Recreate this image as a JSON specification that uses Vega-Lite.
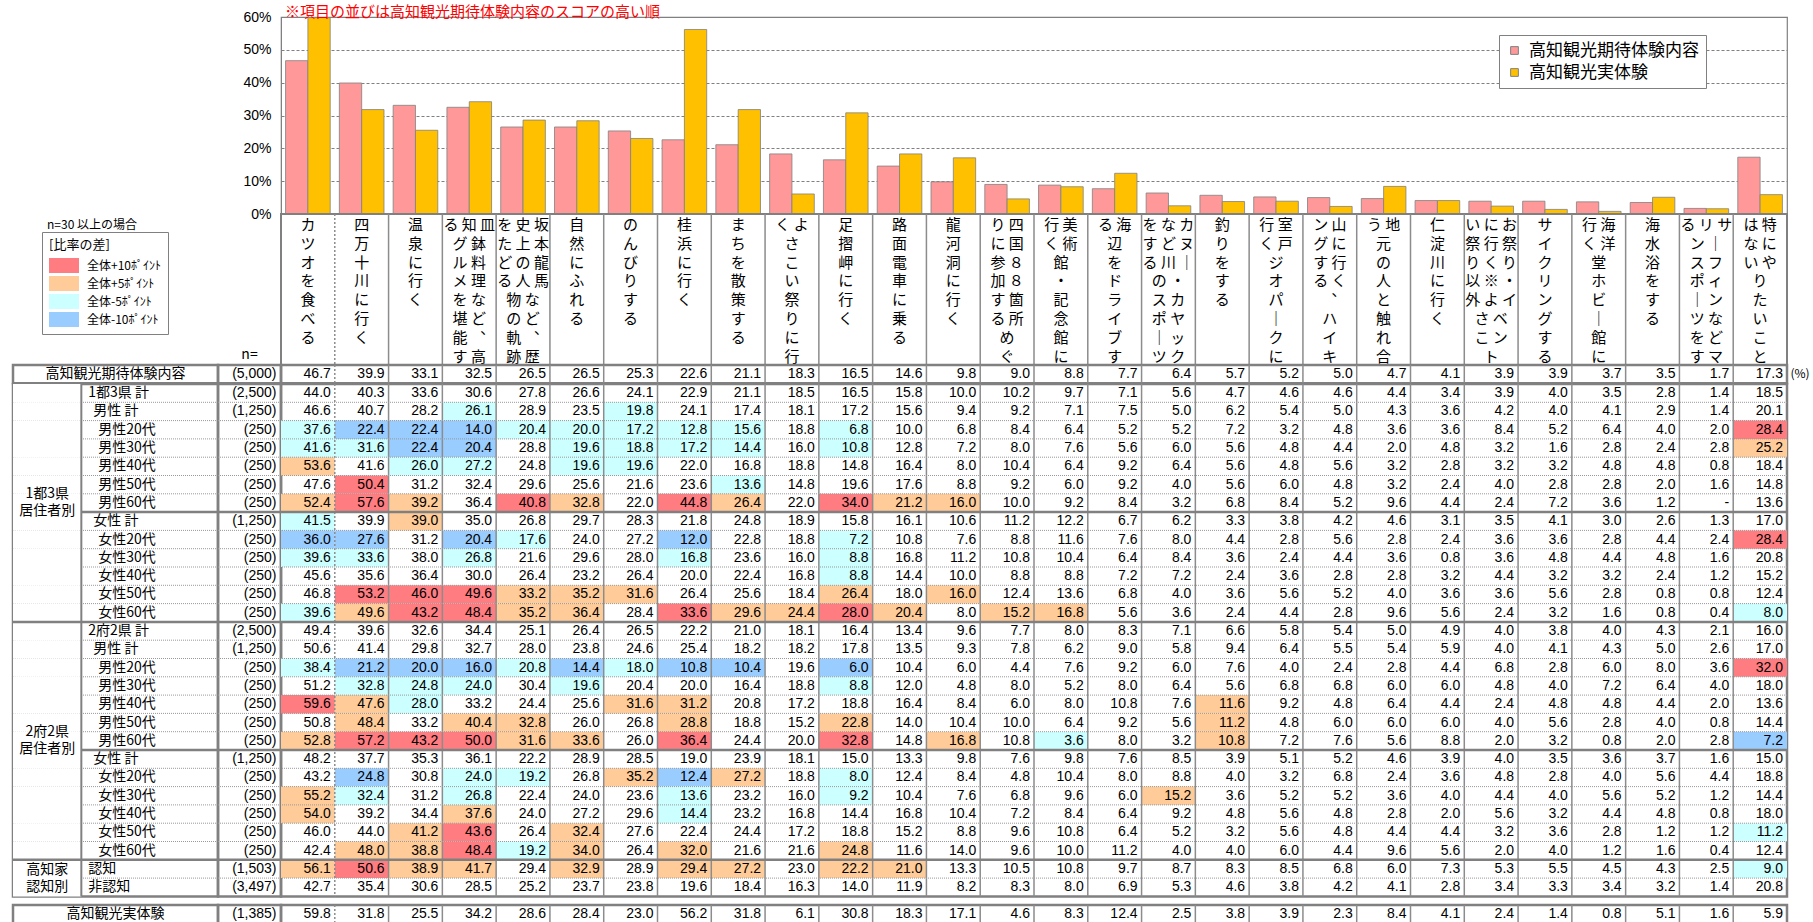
{
  "$schema": "https://vega.github.io/schema/vega-lite/v6.json",
  "background": "#ffffff",
  "padding": {"left": 10, "top": 4, "right": 0, "bottom": 0},
  "columns": 3,
  "align": "each",
  "bounds": "flush",
  "spacing": 0,
  "config": {
    "view": {"stroke": null},
    "font": "Noto Sans CJK JP",
    "title": {"fontWeight": "normal", "color": "#000000"}
  },
  "datasets": {
    "rows": [
      {"r":0,"lab":"高知観光期待体験内容","lv":0,"n":"(5,000)","c01":46.7,"c02":39.9,"c03":33.1,"c04":32.5,"c05":26.5,"c06":26.5,"c07":25.3,"c08":22.6,"c09":21.1,"c10":18.3,"c11":16.5,"c12":14.6,"c13":9.8,"c14":9.0,"c15":8.8,"c16":7.7,"c17":6.4,"c18":5.7,"c19":5.2,"c20":5.0,"c21":4.7,"c22":4.1,"c23":3.9,"c24":3.9,"c25":3.7,"c26":3.5,"c27":1.7,"c28":17.3},
      {"r":1,"lab":"1都3県 計","lv":1,"n":"(2,500)","c01":44.0,"c02":40.3,"c03":33.6,"c04":30.6,"c05":27.8,"c06":26.6,"c07":24.1,"c08":22.9,"c09":21.1,"c10":18.5,"c11":16.5,"c12":15.8,"c13":10.0,"c14":10.2,"c15":9.7,"c16":7.1,"c17":5.6,"c18":4.7,"c19":4.6,"c20":4.6,"c21":4.4,"c22":3.4,"c23":3.9,"c24":4.0,"c25":3.5,"c26":2.8,"c27":1.4,"c28":18.5},
      {"r":2,"lab":"男性 計","lv":2,"n":"(1,250)","c01":46.6,"c02":40.7,"c03":28.2,"c04":26.1,"c05":28.9,"c06":23.5,"c07":19.8,"c08":24.1,"c09":17.4,"c10":18.1,"c11":17.2,"c12":15.6,"c13":9.4,"c14":9.2,"c15":7.1,"c16":7.5,"c17":5.0,"c18":6.2,"c19":5.4,"c20":5.0,"c21":4.3,"c22":3.6,"c23":4.2,"c24":4.0,"c25":4.1,"c26":2.9,"c27":1.4,"c28":20.1},
      {"r":3,"lab":"男性20代","lv":3,"n":"(250)","c01":37.6,"c02":22.4,"c03":22.4,"c04":14.0,"c05":20.4,"c06":20.0,"c07":17.2,"c08":12.8,"c09":15.6,"c10":18.8,"c11":6.8,"c12":10.0,"c13":6.8,"c14":8.4,"c15":6.4,"c16":5.2,"c17":5.2,"c18":7.2,"c19":3.2,"c20":4.8,"c21":3.6,"c22":3.6,"c23":8.4,"c24":5.2,"c25":6.4,"c26":4.0,"c27":2.0,"c28":28.4},
      {"r":4,"lab":"男性30代","lv":3,"n":"(250)","c01":41.6,"c02":31.6,"c03":22.4,"c04":20.4,"c05":28.8,"c06":19.6,"c07":18.8,"c08":17.2,"c09":14.4,"c10":16.0,"c11":10.8,"c12":12.8,"c13":7.2,"c14":8.0,"c15":7.6,"c16":5.6,"c17":6.0,"c18":5.6,"c19":4.8,"c20":4.4,"c21":2.0,"c22":4.8,"c23":3.2,"c24":1.6,"c25":2.8,"c26":2.4,"c27":2.8,"c28":25.2},
      {"r":5,"lab":"男性40代","lv":3,"n":"(250)","c01":53.6,"c02":41.6,"c03":26.0,"c04":27.2,"c05":24.8,"c06":19.6,"c07":19.6,"c08":22.0,"c09":16.8,"c10":18.8,"c11":14.8,"c12":16.4,"c13":8.0,"c14":10.4,"c15":6.4,"c16":9.2,"c17":6.4,"c18":5.6,"c19":4.8,"c20":5.6,"c21":3.2,"c22":2.8,"c23":3.2,"c24":3.2,"c25":4.8,"c26":4.8,"c27":0.8,"c28":18.4},
      {"r":6,"lab":"男性50代","lv":3,"n":"(250)","c01":47.6,"c02":50.4,"c03":31.2,"c04":32.4,"c05":29.6,"c06":25.6,"c07":21.6,"c08":23.6,"c09":13.6,"c10":14.8,"c11":19.6,"c12":17.6,"c13":8.8,"c14":9.2,"c15":6.0,"c16":9.2,"c17":4.0,"c18":5.6,"c19":6.0,"c20":4.8,"c21":3.2,"c22":2.4,"c23":4.0,"c24":2.8,"c25":2.8,"c26":2.0,"c27":1.6,"c28":14.8},
      {"r":7,"lab":"男性60代","lv":3,"n":"(250)","c01":52.4,"c02":57.6,"c03":39.2,"c04":36.4,"c05":40.8,"c06":32.8,"c07":22.0,"c08":44.8,"c09":26.4,"c10":22.0,"c11":34.0,"c12":21.2,"c13":16.0,"c14":10.0,"c15":9.2,"c16":8.4,"c17":3.2,"c18":6.8,"c19":8.4,"c20":5.2,"c21":9.6,"c22":4.4,"c23":2.4,"c24":7.2,"c25":3.6,"c26":1.2,"c27":null,"c28":13.6},
      {"r":8,"lab":"女性 計","lv":2,"n":"(1,250)","c01":41.5,"c02":39.9,"c03":39.0,"c04":35.0,"c05":26.8,"c06":29.7,"c07":28.3,"c08":21.8,"c09":24.8,"c10":18.9,"c11":15.8,"c12":16.1,"c13":10.6,"c14":11.2,"c15":12.2,"c16":6.7,"c17":6.2,"c18":3.3,"c19":3.8,"c20":4.2,"c21":4.6,"c22":3.1,"c23":3.5,"c24":4.1,"c25":3.0,"c26":2.6,"c27":1.3,"c28":17.0},
      {"r":9,"lab":"女性20代","lv":3,"n":"(250)","c01":36.0,"c02":27.6,"c03":31.2,"c04":20.4,"c05":17.6,"c06":24.0,"c07":27.2,"c08":12.0,"c09":22.8,"c10":18.8,"c11":7.2,"c12":10.8,"c13":7.6,"c14":8.8,"c15":11.6,"c16":7.6,"c17":8.0,"c18":4.4,"c19":2.8,"c20":5.6,"c21":2.8,"c22":2.4,"c23":3.6,"c24":3.6,"c25":2.8,"c26":4.4,"c27":2.4,"c28":28.4},
      {"r":10,"lab":"女性30代","lv":3,"n":"(250)","c01":39.6,"c02":33.6,"c03":38.0,"c04":26.8,"c05":21.6,"c06":29.6,"c07":28.0,"c08":16.8,"c09":23.6,"c10":16.0,"c11":8.8,"c12":16.8,"c13":11.2,"c14":10.8,"c15":10.4,"c16":6.4,"c17":8.4,"c18":3.6,"c19":2.4,"c20":4.4,"c21":3.6,"c22":0.8,"c23":3.6,"c24":4.8,"c25":4.4,"c26":4.8,"c27":1.6,"c28":20.8},
      {"r":11,"lab":"女性40代","lv":3,"n":"(250)","c01":45.6,"c02":35.6,"c03":36.4,"c04":30.0,"c05":26.4,"c06":23.2,"c07":26.4,"c08":20.0,"c09":22.4,"c10":16.8,"c11":8.8,"c12":14.4,"c13":10.0,"c14":8.8,"c15":8.8,"c16":7.2,"c17":7.2,"c18":2.4,"c19":3.6,"c20":2.8,"c21":2.8,"c22":3.2,"c23":4.4,"c24":3.2,"c25":3.2,"c26":2.4,"c27":1.2,"c28":15.2},
      {"r":12,"lab":"女性50代","lv":3,"n":"(250)","c01":46.8,"c02":53.2,"c03":46.0,"c04":49.6,"c05":33.2,"c06":35.2,"c07":31.6,"c08":26.4,"c09":25.6,"c10":18.4,"c11":26.4,"c12":18.0,"c13":16.0,"c14":12.4,"c15":13.6,"c16":6.8,"c17":4.0,"c18":3.6,"c19":5.6,"c20":5.2,"c21":4.0,"c22":3.6,"c23":3.6,"c24":5.6,"c25":2.8,"c26":0.8,"c27":0.8,"c28":12.4},
      {"r":13,"lab":"女性60代","lv":3,"n":"(250)","c01":39.6,"c02":49.6,"c03":43.2,"c04":48.4,"c05":35.2,"c06":36.4,"c07":28.4,"c08":33.6,"c09":29.6,"c10":24.4,"c11":28.0,"c12":20.4,"c13":8.0,"c14":15.2,"c15":16.8,"c16":5.6,"c17":3.6,"c18":2.4,"c19":4.4,"c20":2.8,"c21":9.6,"c22":5.6,"c23":2.4,"c24":3.2,"c25":1.6,"c26":0.8,"c27":0.4,"c28":8.0},
      {"r":14,"lab":"2府2県 計","lv":1,"n":"(2,500)","c01":49.4,"c02":39.6,"c03":32.6,"c04":34.4,"c05":25.1,"c06":26.4,"c07":26.5,"c08":22.2,"c09":21.0,"c10":18.1,"c11":16.4,"c12":13.4,"c13":9.6,"c14":7.7,"c15":8.0,"c16":8.3,"c17":7.1,"c18":6.6,"c19":5.8,"c20":5.4,"c21":5.0,"c22":4.9,"c23":4.0,"c24":3.8,"c25":4.0,"c26":4.3,"c27":2.1,"c28":16.0},
      {"r":15,"lab":"男性 計","lv":2,"n":"(1,250)","c01":50.6,"c02":41.4,"c03":29.8,"c04":32.7,"c05":28.0,"c06":23.8,"c07":24.6,"c08":25.4,"c09":18.2,"c10":18.2,"c11":17.8,"c12":13.5,"c13":9.3,"c14":7.8,"c15":6.2,"c16":9.0,"c17":5.8,"c18":9.4,"c19":6.4,"c20":5.5,"c21":5.4,"c22":5.9,"c23":4.0,"c24":4.1,"c25":4.3,"c26":5.0,"c27":2.6,"c28":17.0},
      {"r":16,"lab":"男性20代","lv":3,"n":"(250)","c01":38.4,"c02":21.2,"c03":20.0,"c04":16.0,"c05":20.8,"c06":14.4,"c07":18.0,"c08":10.8,"c09":10.4,"c10":19.6,"c11":6.0,"c12":10.4,"c13":6.0,"c14":4.4,"c15":7.6,"c16":9.2,"c17":6.0,"c18":7.6,"c19":4.0,"c20":2.4,"c21":2.8,"c22":4.4,"c23":6.8,"c24":2.8,"c25":6.0,"c26":8.0,"c27":3.6,"c28":32.0},
      {"r":17,"lab":"男性30代","lv":3,"n":"(250)","c01":51.2,"c02":32.8,"c03":24.8,"c04":24.0,"c05":30.4,"c06":19.6,"c07":20.4,"c08":20.0,"c09":16.4,"c10":18.8,"c11":8.8,"c12":12.0,"c13":4.8,"c14":8.0,"c15":5.2,"c16":8.0,"c17":6.4,"c18":5.6,"c19":6.8,"c20":6.8,"c21":6.0,"c22":6.0,"c23":4.8,"c24":4.0,"c25":7.2,"c26":6.4,"c27":4.0,"c28":18.0},
      {"r":18,"lab":"男性40代","lv":3,"n":"(250)","c01":59.6,"c02":47.6,"c03":28.0,"c04":33.2,"c05":24.4,"c06":25.6,"c07":31.6,"c08":31.2,"c09":20.8,"c10":17.2,"c11":18.8,"c12":16.4,"c13":8.4,"c14":6.0,"c15":8.0,"c16":10.8,"c17":7.6,"c18":11.6,"c19":9.2,"c20":4.8,"c21":6.4,"c22":4.4,"c23":2.4,"c24":4.8,"c25":4.8,"c26":4.4,"c27":2.0,"c28":13.6},
      {"r":19,"lab":"男性50代","lv":3,"n":"(250)","c01":50.8,"c02":48.4,"c03":33.2,"c04":40.4,"c05":32.8,"c06":26.0,"c07":26.8,"c08":28.8,"c09":18.8,"c10":15.2,"c11":22.8,"c12":14.0,"c13":10.4,"c14":10.0,"c15":6.4,"c16":9.2,"c17":5.6,"c18":11.2,"c19":4.8,"c20":6.0,"c21":6.0,"c22":6.0,"c23":4.0,"c24":5.6,"c25":2.8,"c26":4.0,"c27":0.8,"c28":14.4},
      {"r":20,"lab":"男性60代","lv":3,"n":"(250)","c01":52.8,"c02":57.2,"c03":43.2,"c04":50.0,"c05":31.6,"c06":33.6,"c07":26.0,"c08":36.4,"c09":24.4,"c10":20.0,"c11":32.8,"c12":14.8,"c13":16.8,"c14":10.8,"c15":3.6,"c16":8.0,"c17":3.2,"c18":10.8,"c19":7.2,"c20":7.6,"c21":5.6,"c22":8.8,"c23":2.0,"c24":3.2,"c25":0.8,"c26":2.0,"c27":2.8,"c28":7.2},
      {"r":21,"lab":"女性 計","lv":2,"n":"(1,250)","c01":48.2,"c02":37.7,"c03":35.3,"c04":36.1,"c05":22.2,"c06":28.9,"c07":28.5,"c08":19.0,"c09":23.9,"c10":18.1,"c11":15.0,"c12":13.3,"c13":9.8,"c14":7.6,"c15":9.8,"c16":7.6,"c17":8.5,"c18":3.9,"c19":5.1,"c20":5.2,"c21":4.6,"c22":3.9,"c23":4.0,"c24":3.5,"c25":3.6,"c26":3.7,"c27":1.6,"c28":15.0},
      {"r":22,"lab":"女性20代","lv":3,"n":"(250)","c01":43.2,"c02":24.8,"c03":30.8,"c04":24.0,"c05":19.2,"c06":26.8,"c07":35.2,"c08":12.4,"c09":27.2,"c10":18.8,"c11":8.0,"c12":12.4,"c13":8.4,"c14":4.8,"c15":10.4,"c16":8.0,"c17":8.8,"c18":4.0,"c19":3.2,"c20":6.8,"c21":2.4,"c22":3.6,"c23":4.8,"c24":2.8,"c25":4.0,"c26":5.6,"c27":4.4,"c28":18.8},
      {"r":23,"lab":"女性30代","lv":3,"n":"(250)","c01":55.2,"c02":32.4,"c03":31.2,"c04":26.8,"c05":22.4,"c06":24.0,"c07":23.6,"c08":13.6,"c09":23.2,"c10":16.0,"c11":9.2,"c12":10.4,"c13":7.6,"c14":6.8,"c15":9.6,"c16":6.0,"c17":15.2,"c18":3.6,"c19":5.2,"c20":5.2,"c21":3.6,"c22":4.0,"c23":4.4,"c24":4.0,"c25":5.6,"c26":5.2,"c27":1.2,"c28":14.4},
      {"r":24,"lab":"女性40代","lv":3,"n":"(250)","c01":54.0,"c02":39.2,"c03":34.4,"c04":37.6,"c05":24.0,"c06":27.2,"c07":29.6,"c08":14.4,"c09":23.2,"c10":16.8,"c11":14.4,"c12":16.8,"c13":10.4,"c14":7.2,"c15":8.4,"c16":6.4,"c17":9.2,"c18":4.8,"c19":5.6,"c20":4.8,"c21":2.8,"c22":2.0,"c23":5.6,"c24":3.2,"c25":4.4,"c26":4.8,"c27":0.8,"c28":18.0},
      {"r":25,"lab":"女性50代","lv":3,"n":"(250)","c01":46.0,"c02":44.0,"c03":41.2,"c04":43.6,"c05":26.4,"c06":32.4,"c07":27.6,"c08":22.4,"c09":24.4,"c10":17.2,"c11":18.8,"c12":15.2,"c13":8.8,"c14":9.6,"c15":10.8,"c16":6.4,"c17":5.2,"c18":3.2,"c19":5.6,"c20":4.8,"c21":4.4,"c22":4.4,"c23":3.2,"c24":3.6,"c25":2.8,"c26":1.2,"c27":1.2,"c28":11.2},
      {"r":26,"lab":"女性60代","lv":3,"n":"(250)","c01":42.4,"c02":48.0,"c03":38.8,"c04":48.4,"c05":19.2,"c06":34.0,"c07":26.4,"c08":32.0,"c09":21.6,"c10":21.6,"c11":24.8,"c12":11.6,"c13":14.0,"c14":9.6,"c15":10.0,"c16":11.2,"c17":4.0,"c18":4.0,"c19":6.0,"c20":4.4,"c21":9.6,"c22":5.6,"c23":2.0,"c24":4.0,"c25":1.2,"c26":1.6,"c27":0.4,"c28":12.4},
      {"r":27,"lab":"認知","lv":1,"n":"(1,503)","c01":56.1,"c02":50.6,"c03":38.9,"c04":41.7,"c05":29.4,"c06":32.9,"c07":28.9,"c08":29.4,"c09":27.2,"c10":23.0,"c11":22.2,"c12":21.0,"c13":13.3,"c14":10.5,"c15":10.8,"c16":9.7,"c17":8.7,"c18":8.3,"c19":8.5,"c20":6.8,"c21":6.0,"c22":7.3,"c23":5.3,"c24":5.5,"c25":4.5,"c26":4.3,"c27":2.5,"c28":9.0},
      {"r":28,"lab":"非認知","lv":1,"n":"(3,497)","c01":42.7,"c02":35.4,"c03":30.6,"c04":28.5,"c05":25.2,"c06":23.7,"c07":23.8,"c08":19.6,"c09":18.4,"c10":16.3,"c11":14.0,"c12":11.9,"c13":8.2,"c14":8.3,"c15":8.0,"c16":6.9,"c17":5.3,"c18":4.6,"c19":3.8,"c20":4.2,"c21":4.1,"c22":2.8,"c23":3.4,"c24":3.3,"c25":3.4,"c26":3.2,"c27":1.4,"c28":20.8},
      {"r":29,"lab":"高知観光実体験","lv":0,"n":"(1,385)","c01":59.8,"c02":31.8,"c03":25.5,"c04":34.2,"c05":28.6,"c06":28.4,"c07":23.0,"c08":56.2,"c09":31.8,"c10":6.1,"c11":30.8,"c12":18.3,"c13":17.1,"c14":4.6,"c15":8.3,"c16":12.4,"c17":2.5,"c18":3.8,"c19":3.9,"c20":2.3,"c21":8.4,"c22":4.1,"c23":2.4,"c24":1.4,"c25":0.8,"c26":5.1,"c27":1.6,"c28":5.9}
    ],
    "cats": [
      {"key":"c01","name":"カツオを食べる","vt":"カ\nツ\nオ\nを\n食\nべ\nる\n　"},
      {"key":"c02","name":"四万十川に行く","vt":"四\n万\n十\n川\nに\n行\nく\n　"},
      {"key":"c03","name":"温泉に行く","vt":"温\n泉\nに\n行\nく\n　\n　\n　"},
      {"key":"c04","name":"皿鉢料理など、高知グルメを堪能する","vt":"る 知 皿\n　 グ 鉢\n　 ル 料\n　 メ 理\n　 を な\n　 堪 ど\n　 能 ︑\n　 す 高"},
      {"key":"c05","name":"坂本龍馬など、歴史上の人物の軌跡をたどる","vt":"を 史 坂\nた 上 本\nど の 龍\nる 人 馬\n　 物 な\n　 の ど\n　 軌 ︑\n　 跡 歴"},
      {"key":"c06","name":"自然にふれる","vt":"自\n然\nに\nふ\nれ\nる\n　\n　"},
      {"key":"c07","name":"のんびりする","vt":"の\nん\nび\nり\nす\nる\n　\n　"},
      {"key":"c08","name":"桂浜に行く","vt":"桂\n浜\nに\n行\nく\n　\n　\n　"},
      {"key":"c09","name":"まちを散策する","vt":"ま\nち\nを\n散\n策\nす\nる\n　"},
      {"key":"c10","name":"よさこい祭りに行く","vt":"く よ\n　 さ\n　 こ\n　 い\n　 祭\n　 り\n　 に\n　 行"},
      {"key":"c11","name":"足摺岬に行く","vt":"足\n摺\n岬\nに\n行\nく\n　\n　"},
      {"key":"c12","name":"路面電車に乗る","vt":"路\n面\n電\n車\nに\n乗\nる\n　"},
      {"key":"c13","name":"龍河洞に行く","vt":"龍\n河\n洞\nに\n行\nく\n　\n　"},
      {"key":"c14","name":"四国88箇所めぐりに参加する","vt":"り 四\nに 国\n参 ８\n加 ８\nす 箇\nる 所\n　 め\n　 ぐ"},
      {"key":"c15","name":"美術館・記念館に行く","vt":"行 美\nく 術\n　 館\n　 ・\n　 記\n　 念\n　 館\n　 に"},
      {"key":"c16","name":"海辺をドライブする","vt":"る 海\n　 辺\n　 を\n　 ド\n　 ラ\n　 イ\n　 ブ\n　 す"},
      {"key":"c17","name":"カヌー・カヤックなど川のスポーツをする","vt":"を な カ\nす ど ヌ\nる 川 ｜\n　 の ・\n　 ス カ\n　 ポ ヤ\n　 ｜ ッ\n　 ツ ク"},
      {"key":"c18","name":"釣りをする","vt":"釣\nり\nを\nす\nる\n　\n　\n　"},
      {"key":"c19","name":"室戸ジオパークに行く","vt":"行 室\nく 戸\n　 ジ\n　 オ\n　 パ\n　 ｜\n　 ク\n　 に"},
      {"key":"c20","name":"山に行く、ハイキングする","vt":"ン 山\nグ に\nす 行\nる く\n　 ︑\n　 ハ\n　 イ\n　 キ"},
      {"key":"c21","name":"地元の人と触れ合う","vt":"う 地\n　 元\n　 の\n　 人\n　 と\n　 触\n　 れ\n　 合"},
      {"key":"c22","name":"仁淀川に行く","vt":"仁\n淀\n川\nに\n行\nく\n　\n　"},
      {"key":"c23","name":"お祭り・イベントに行く※よさこい祭り以外","vt":"い に お\n祭 行 祭\nり く り\n以 ※ ・\n外 よ イ\n　 さ ベ\n　 こ ン\n　 　 ト"},
      {"key":"c24","name":"サイクリングする","vt":"サ\nイ\nク\nリ\nン\nグ\nす\nる"},
      {"key":"c25","name":"海洋堂ホビー館に行く","vt":"行 海\nく 洋\n　 堂\n　 ホ\n　 ビ\n　 ｜\n　 館\n　 に"},
      {"key":"c26","name":"海水浴をする","vt":"海\n水\n浴\nを\nす\nる\n　\n　"},
      {"key":"c27","name":"サーフィンなどマリンスポーツをする","vt":"る リ サ\n　 ン ｜\n　 ス フ\n　 ポ ィ\n　 ｜ ン\n　 ツ な\n　 を ど\n　 す マ"},
      {"key":"c28","name":"特にやりたいことはない","vt":"は 特\nな に\nい や\n　 り\n　 た\n　 い\n　 こ\n　 と"}
    ],
    "grps": [
      {"r":7,"t":["1都3県","居住者別"]},
      {"r":20,"t":["2府2県","居住者別"]},
      {"r":27,"t":["高知家","認知別"]}
    ]
  },
  "concat": [
    {"width": 205, "height": 197, "data": {"values": [{}]},
     "title": {"text": "n=30 以上の場合", "orient": "bottom", "anchor": "start", "frame": "group", "dx": 34, "offset": 6, "fontSize": 12, "fontWeight": "normal"},
     "mark": {"type": "text"}, "encoding": {"text": {"value": ""}}},
    {"width": 63, "height": 197, "data": {"values": [{}]}, "mark": {"type": "text"}, "encoding": {"text": {"value": ""}}},
    {
      "width": 1506, "height": 197,
      "data": {"name": "rows"},
      "transform": [
        {"filter": "datum.r == 0 || datum.r == 29"},
        {"fold": ["c01","c02","c03","c04","c05","c06","c07","c08","c09","c10","c11","c12","c13","c14","c15","c16","c17","c18","c19","c20","c21","c22","c23","c24","c25","c26","c27","c28"], "as": ["key", "v"]}
      ],
      "title": {"text": "※項目の並びは高知観光期待体験内容のスコアの高い順", "anchor": "start", "frame": "group", "dx": 4, "offset": -10, "fontSize": 15, "fontWeight": "normal", "color": "#FF0000"},
      "view": {"stroke": "#808080", "strokeWidth": 1.2},
      "mark": {"type": "bar", "stroke": "#808080", "strokeWidth": 0.8},
      "encoding": {
        "x": {"field": "key", "type": "ordinal", "axis": null, "scale": {"type": "band", "paddingInner": 0.17, "paddingOuter": 0.085}},
        "xOffset": {"field": "r", "type": "ordinal"},
        "y": {"field": "v", "type": "quantitative", "scale": {"domain": [0, 60], "nice": false},
              "axis": {"title": null, "values": [0, 10, 20, 30, 40, 50, 60], "labelExpr": "datum.value + '%'", "labelFont": "Liberation Sans", "labelFontSize": 14, "labelColor": "#000000", "labelPadding": 10, "ticks": false, "domainColor": "#808080", "gridColor": "#808080", "gridDash": [3, 2], "gridWidth": 1}},
        "color": {"field": "lab", "type": "nominal",
                  "scale": {"domain": ["高知観光期待体験内容", "高知観光実体験"], "range": ["#FF9999", "#FFC000"]},
                  "legend": {"orient": "none", "legendX": 1486, "legendY": 18, "title": null, "direction": "vertical", "padding": 7, "strokeColor": "#808080", "fillColor": "#ffffff", "symbolType": "square", "symbolSize": 60, "symbolStrokeColor": "#808080", "symbolStrokeWidth": 1, "labelFontSize": 17, "labelOffset": 6, "rowPadding": 4, "labelLimit": 400}}
      }
    },
    {"width": 205, "height": 151, "data": {"values": [{}]}, "mark": {"type": "text"}, "encoding": {"text": {"value": ""}}},
    {"width": 63, "height": 151, "data": {"values": [{}]}, "mark": {"type": "text"}, "encoding": {"text": {"value": ""}}},
    {
      "width": 1506, "height": 151,
      "data": {"name": "cats"},
      "view": {"stroke": "#808080", "strokeWidth": 2},
      "layer": [
        {
          "mark": {"type": "text", "lineBreak": "\n", "fontSize": 15, "lineHeight": 18.8, "baseline": "top", "align": "center", "dy": -71.5},
          "encoding": {
            "x": {"field": "key", "type": "ordinal", "axis": null, "scale": {"type": "band", "paddingInner": 0, "paddingOuter": 0}},
            "text": {"field": "vt"}
          }
        },
        {
          "transform": [{"filter": "datum.key != 'c01'"}],
          "mark": {"type": "rule", "color": "#8c8c8c", "strokeWidth": 1.5},
          "encoding": {
            "x": {"field": "key", "type": "ordinal", "bandPosition": 0, "axis": null, "scale": {"type": "band", "paddingInner": 0, "paddingOuter": 0}},
            "strokeDash": {"condition": {"test": "datum.key == 'c02'", "value": [2, 2]}, "value": [1, 0]}
          }
        }
      ]
    },
    {
      "width": 205, "height": 18.3,
      "data": {"name": "rows"},
      "transform": [{"filter": "datum.r == 0"}],
      "view": {"stroke": "#808080", "strokeWidth": 2.5},
      "mark": {"type": "text", "fontSize": 14, "baseline": "middle"},
      "encoding": {"text": {"field": "lab"}}
    },
    {
      "width": 63, "height": 18.3,
      "data": {"name": "rows"},
      "transform": [{"filter": "datum.r == 0"}],
      "title": {"text": "n=", "anchor": "middle", "offset": 3, "fontSize": 14, "fontWeight": "normal"},
      "view": {"stroke": "#808080", "strokeWidth": 2.5},
      "mark": {"type": "text", "align": "right", "baseline": "middle", "fontSize": 14, "font": "Liberation Sans", "dx": 27},
      "encoding": {"text": {"field": "n"}}
    },
    {
      "width": 1506, "height": 18.3,
      "view": {"stroke": "#808080", "strokeWidth": 2.5},
      "layer": [
        {
          "data": {"name": "cats"},
          "transform": [{"filter": "datum.key != 'c01'"}],
          "mark": {"type": "rule", "color": "#8c8c8c", "strokeWidth": 1.5},
          "encoding": {
            "x": {"field": "key", "type": "ordinal", "bandPosition": 0, "axis": null, "scale": {"type": "band", "paddingInner": 0, "paddingOuter": 0}},
            "strokeDash": {"condition": {"test": "datum.key == 'c02'", "value": [2, 2]}, "value": [1, 0]}
          }
        },
        {
          "data": {"name": "rows"},
          "transform": [
            {"filter": "datum.r == 0"},
            {"fold": ["c01","c02","c03","c04","c05","c06","c07","c08","c09","c10","c11","c12","c13","c14","c15","c16","c17","c18","c19","c20","c21","c22","c23","c24","c25","c26","c27","c28"], "as": ["key", "v"]},
            {"calculate": "datum.v == null ? '-' : format(datum.v, '.1f')", "as": "t"}
          ],
          "mark": {"type": "text", "align": "right", "baseline": "middle", "fontSize": 14, "font": "Liberation Sans", "color": "#000000"},
          "encoding": {
            "x": {"field": "key", "type": "ordinal", "bandPosition": 0.926, "axis": null, "scale": {"type": "band", "paddingInner": 0, "paddingOuter": 0}},
            "y": {"field": "r", "type": "ordinal", "scale": {"type": "band", "paddingInner": 0, "paddingOuter": 0},
                  "axis": {"orient": "right", "title": null, "domain": false, "ticks": false, "grid": false, "labelExpr": "'(%)'", "labelFontSize": 12, "labelPadding": 3, "labelColor": "#000000"}},
            "text": {"field": "t"}
          }
        }
      ]
    },
    {
      "width": 205, "height": 512.4,
      "view": {"stroke": "#808080", "strokeWidth": 2.5},
      "layer": [
        {
          "data": {"name": "rows"},
          "transform": [{"filter": "datum.r >= 2 && datum.r <= 28"}],
          "mark": {"type": "rule", "color": "#999999", "strokeWidth": 1, "strokeDash": [1, 1]},
          "encoding": {"y": {"field": "r", "type": "ordinal", "bandPosition": 0, "axis": null, "scale": {"type": "band", "paddingInner": 0, "paddingOuter": 0}}}
        },
        {
          "data": {"name": "rows"},
          "transform": [{"filter": "datum.r == 8 || datum.r == 21"}],
          "mark": {"type": "rule", "color": "#808080", "strokeWidth": 2.5},
          "encoding": {"y": {"field": "r", "type": "ordinal", "bandPosition": 0, "axis": null, "scale": {"type": "band", "paddingInner": 0, "paddingOuter": 0}}}
        },
        {
          "data": {"name": "rows"},
          "transform": [{"filter": "datum.r >= 1 && datum.r <= 28"}],
          "mark": {"type": "rect", "fill": "#ffffff"},
          "encoding": {
            "x": {"datum": "g", "type": "nominal", "axis": null, "scale": {"type": "band", "domain": ["g", "l1", "l2"], "paddingInner": 0, "paddingOuter": 0}},
            "y": {"field": "r", "type": "ordinal", "axis": null, "scale": {"type": "band", "paddingInner": 0, "paddingOuter": 0}}
          }
        },
        {
          "data": {"name": "rows"},
          "transform": [{"filter": "datum.r == 14 || datum.r == 27"}],
          "mark": {"type": "rule", "color": "#808080", "strokeWidth": 2.5},
          "encoding": {"y": {"field": "r", "type": "ordinal", "bandPosition": 0, "axis": null, "scale": {"type": "band", "paddingInner": 0, "paddingOuter": 0}}}
        },
        {
          "data": {"values": [{}]},
          "mark": {"type": "rule", "color": "#808080", "strokeWidth": 2},
          "encoding": {"x": {"datum": "l1", "type": "nominal", "bandPosition": 0, "axis": null, "scale": {"type": "band", "domain": ["g", "l1", "l2"], "paddingInner": 0, "paddingOuter": 0}}}
        },
        {
          "data": {"name": "grps"},
          "transform": [{"filter": "datum.r != 27"}],
          "mark": {"type": "text", "fontSize": 14, "lineHeight": 17, "baseline": "middle", "dy": -8.5},
          "encoding": {
            "x": {"datum": "g", "type": "nominal", "axis": null, "scale": {"type": "band", "domain": ["g", "l1", "l2"], "paddingInner": 0, "paddingOuter": 0}},
            "y": {"field": "r", "type": "ordinal", "axis": null, "scale": {"type": "band", "paddingInner": 0, "paddingOuter": 0}},
            "text": {"field": "t"}
          }
        },
        {
          "data": {"name": "grps"},
          "transform": [{"filter": "datum.r == 27"}],
          "mark": {"type": "text", "fontSize": 14, "lineHeight": 17, "baseline": "middle", "dy": -8.5},
          "encoding": {
            "x": {"datum": "g", "type": "nominal", "axis": null, "scale": {"type": "band", "domain": ["g", "l1", "l2"], "paddingInner": 0, "paddingOuter": 0}},
            "y": {"field": "r", "type": "ordinal", "bandPosition": 1, "axis": null, "scale": {"type": "band", "paddingInner": 0, "paddingOuter": 0}},
            "text": {"field": "t"}
          }
        },
        {
          "data": {"name": "rows"},
          "transform": [{"filter": "datum.lv == 1"}],
          "mark": {"type": "text", "align": "left", "baseline": "middle", "fontSize": 14, "dx": 7},
          "encoding": {
            "x": {"datum": "l1", "type": "nominal", "bandPosition": 0, "axis": null, "scale": {"type": "band", "domain": ["g", "l1", "l2"], "paddingInner": 0, "paddingOuter": 0}},
            "y": {"field": "r", "type": "ordinal", "axis": null, "scale": {"type": "band", "paddingInner": 0, "paddingOuter": 0}},
            "text": {"field": "lab"}
          }
        },
        {
          "data": {"name": "rows"},
          "transform": [{"filter": "datum.lv == 2"}],
          "mark": {"type": "text", "align": "left", "baseline": "middle", "fontSize": 14, "dx": 12},
          "encoding": {
            "x": {"datum": "l1", "type": "nominal", "bandPosition": 0, "axis": null, "scale": {"type": "band", "domain": ["g", "l1", "l2"], "paddingInner": 0, "paddingOuter": 0}},
            "y": {"field": "r", "type": "ordinal", "axis": null, "scale": {"type": "band", "paddingInner": 0, "paddingOuter": 0}},
            "text": {"field": "lab"}
          }
        },
        {
          "data": {"name": "rows"},
          "transform": [{"filter": "datum.lv == 3"}],
          "mark": {"type": "text", "align": "left", "baseline": "middle", "fontSize": 14, "dx": 17},
          "encoding": {
            "x": {"datum": "l1", "type": "nominal", "bandPosition": 0, "axis": null, "scale": {"type": "band", "domain": ["g", "l1", "l2"], "paddingInner": 0, "paddingOuter": 0}},
            "y": {"field": "r", "type": "ordinal", "axis": null, "scale": {"type": "band", "paddingInner": 0, "paddingOuter": 0}},
            "text": {"field": "lab"}
          }
        }
      ]
    },
    {
      "width": 63, "height": 512.4,
      "view": {"stroke": "#808080", "strokeWidth": 2.5},
      "layer": [
        {
          "data": {"name": "rows"},
          "transform": [{"filter": "datum.r >= 2 && datum.r <= 28"}],
          "mark": {"type": "rule", "color": "#999999", "strokeWidth": 1, "strokeDash": [1, 1]},
          "encoding": {"y": {"field": "r", "type": "ordinal", "bandPosition": 0, "axis": null, "scale": {"type": "band", "paddingInner": 0, "paddingOuter": 0}}}
        },
        {
          "data": {"name": "rows"},
          "transform": [{"filter": "indexof([8, 14, 21, 27], datum.r) >= 0"}],
          "mark": {"type": "rule", "color": "#808080", "strokeWidth": 2.5},
          "encoding": {"y": {"field": "r", "type": "ordinal", "bandPosition": 0, "axis": null, "scale": {"type": "band", "paddingInner": 0, "paddingOuter": 0}}}
        },
        {
          "data": {"name": "rows"},
          "transform": [{"filter": "datum.r >= 1 && datum.r <= 28"}],
          "mark": {"type": "text", "align": "right", "baseline": "middle", "fontSize": 14, "font": "Liberation Sans", "dx": 27},
          "encoding": {"y": {"field": "r", "type": "ordinal", "axis": null, "scale": {"type": "band", "paddingInner": 0, "paddingOuter": 0}}, "text": {"field": "n"}}
        }
      ]
    },
    {
      "width": 1506, "height": 512.4,
      "view": {"stroke": "#808080", "strokeWidth": 2.5},
      "layer": [
        {
          "data": {"name": "rows"},
          "transform": [
            {"filter": "datum.r <= 28"},
            {"fold": ["c01","c02","c03","c04","c05","c06","c07","c08","c09","c10","c11","c12","c13","c14","c15","c16","c17","c18","c19","c20","c21","c22","c23","c24","c25","c26","c27","c28"], "as": ["key", "v"]},
            {"calculate": "datum.r == 0 ? datum.v : null", "as": "v0"},
            {"joinaggregate": [{"op": "max", "field": "v0", "as": "base"}], "groupby": ["key"]},
            {"calculate": "datum.v - datum.base", "as": "d"},
            {"calculate": "datum.r == 0 || datum.v == null ? null : (datum.d >= 9.95 ? '全体+10ﾎﾟｲﾝﾄ' : (datum.d >= 4.95 ? '全体+5ﾎﾟｲﾝﾄ' : (datum.d <= -9.95 ? '全体-10ﾎﾟｲﾝﾄ' : (datum.d <= -5.05 ? '全体-5ﾎﾟｲﾝﾄ' : null))))", "as": "cls"},
            {"filter": "datum.cls != null"}
          ],
          "mark": {"type": "rect"},
          "encoding": {
            "x": {"field": "key", "type": "ordinal", "axis": null, "scale": {"type": "band", "paddingInner": 0, "paddingOuter": 0}},
            "y": {"field": "r", "type": "ordinal", "axis": null, "scale": {"type": "band", "paddingInner": 0, "paddingOuter": 0}},
            "fill": {"field": "cls", "type": "nominal",
                     "scale": {"domain": ["全体+10ﾎﾟｲﾝﾄ", "全体+5ﾎﾟｲﾝﾄ", "全体-5ﾎﾟｲﾝﾄ", "全体-10ﾎﾟｲﾝﾄ"], "range": ["#FF7C80", "#FFCC99", "#CCFFFF", "#99CCFF"]},
                     "legend": {"orient": "none", "legendX": 29, "legendY": 215, "title": "[比率の差]", "titleFontSize": 13, "titleFontWeight": "normal", "titlePadding": 6, "padding": 7, "strokeColor": "#808080", "fillColor": "#ffffff", "symbolType": "M-1,-1H3V1H-1Z", "symbolSize": 225, "symbolStrokeWidth": 0, "labelFontSize": 12, "labelOffset": 23, "rowPadding": 3}}
          }
        },
        {
          "data": {"name": "cats"},
          "transform": [{"filter": "datum.key != 'c01'"}],
          "mark": {"type": "rule", "color": "#8c8c8c", "strokeWidth": 1.5},
          "encoding": {
            "x": {"field": "key", "type": "ordinal", "bandPosition": 0, "axis": null, "scale": {"type": "band", "paddingInner": 0, "paddingOuter": 0}},
            "strokeDash": {"condition": {"test": "datum.key == 'c02'", "value": [2, 2]}, "value": [1, 0]}
          }
        },
        {
          "data": {"name": "rows"},
          "transform": [{"filter": "datum.r >= 2 && datum.r <= 28"}],
          "mark": {"type": "rule", "color": "#999999", "strokeWidth": 1, "strokeDash": [1, 1]},
          "encoding": {"y": {"field": "r", "type": "ordinal", "bandPosition": 0, "axis": null, "scale": {"type": "band", "paddingInner": 0, "paddingOuter": 0}}}
        },
        {
          "data": {"name": "rows"},
          "transform": [{"filter": "indexof([8, 14, 21, 27], datum.r) >= 0"}],
          "mark": {"type": "rule", "color": "#808080", "strokeWidth": 2.5},
          "encoding": {"y": {"field": "r", "type": "ordinal", "bandPosition": 0, "axis": null, "scale": {"type": "band", "paddingInner": 0, "paddingOuter": 0}}}
        },
        {
          "data": {"name": "rows"},
          "transform": [
            {"filter": "datum.r >= 1 && datum.r <= 28"},
            {"fold": ["c01","c02","c03","c04","c05","c06","c07","c08","c09","c10","c11","c12","c13","c14","c15","c16","c17","c18","c19","c20","c21","c22","c23","c24","c25","c26","c27","c28"], "as": ["key", "v"]},
            {"calculate": "datum.v == null ? '-' : format(datum.v, '.1f')", "as": "t"}
          ],
          "mark": {"type": "text", "align": "right", "baseline": "middle", "fontSize": 14, "font": "Liberation Sans", "color": "#000000"},
          "encoding": {
            "x": {"field": "key", "type": "ordinal", "bandPosition": 0.926, "axis": null, "scale": {"type": "band", "paddingInner": 0, "paddingOuter": 0}},
            "y": {"field": "r", "type": "ordinal", "axis": null, "scale": {"type": "band", "paddingInner": 0, "paddingOuter": 0}},
            "text": {"field": "t"}
          }
        }
      ]
    },
    {"width": 205, "height": 7.5, "data": {"values": [{}]}, "mark": {"type": "text"}, "encoding": {"text": {"value": ""}}},
    {"width": 63, "height": 7.5, "data": {"values": [{}]}, "mark": {"type": "text"}, "encoding": {"text": {"value": ""}}},
    {"width": 1506, "height": 7.5, "data": {"values": [{}]}, "mark": {"type": "text"}, "encoding": {"text": {"value": ""}}},
    {
      "width": 205, "height": 18.3,
      "data": {"name": "rows"},
      "transform": [{"filter": "datum.r == 29"}],
      "view": {"stroke": "#808080", "strokeWidth": 2.5},
      "mark": {"type": "text", "fontSize": 14, "baseline": "middle"},
      "encoding": {"text": {"field": "lab"}}
    },
    {
      "width": 63, "height": 18.3,
      "data": {"name": "rows"},
      "transform": [{"filter": "datum.r == 29"}],
      "view": {"stroke": "#808080", "strokeWidth": 2.5},
      "mark": {"type": "text", "align": "right", "baseline": "middle", "fontSize": 14, "font": "Liberation Sans", "dx": 27},
      "encoding": {"text": {"field": "n"}}
    },
    {
      "width": 1506, "height": 18.3,
      "view": {"stroke": "#808080", "strokeWidth": 2.5},
      "layer": [
        {
          "data": {"name": "cats"},
          "transform": [{"filter": "datum.key != 'c01'"}],
          "mark": {"type": "rule", "color": "#8c8c8c", "strokeWidth": 1.5},
          "encoding": {
            "x": {"field": "key", "type": "ordinal", "bandPosition": 0, "axis": null, "scale": {"type": "band", "paddingInner": 0, "paddingOuter": 0}},
            "strokeDash": {"condition": {"test": "datum.key == 'c02'", "value": [2, 2]}, "value": [1, 0]}
          }
        },
        {
          "data": {"name": "rows"},
          "transform": [
            {"filter": "datum.r == 29"},
            {"fold": ["c01","c02","c03","c04","c05","c06","c07","c08","c09","c10","c11","c12","c13","c14","c15","c16","c17","c18","c19","c20","c21","c22","c23","c24","c25","c26","c27","c28"], "as": ["key", "v"]},
            {"calculate": "datum.v == null ? '-' : format(datum.v, '.1f')", "as": "t"}
          ],
          "mark": {"type": "text", "align": "right", "baseline": "middle", "fontSize": 14, "font": "Liberation Sans", "color": "#000000"},
          "encoding": {
            "x": {"field": "key", "type": "ordinal", "bandPosition": 0.926, "axis": null, "scale": {"type": "band", "paddingInner": 0, "paddingOuter": 0}},
            "text": {"field": "t"}
          }
        }
      ]
    }
  ]
}
